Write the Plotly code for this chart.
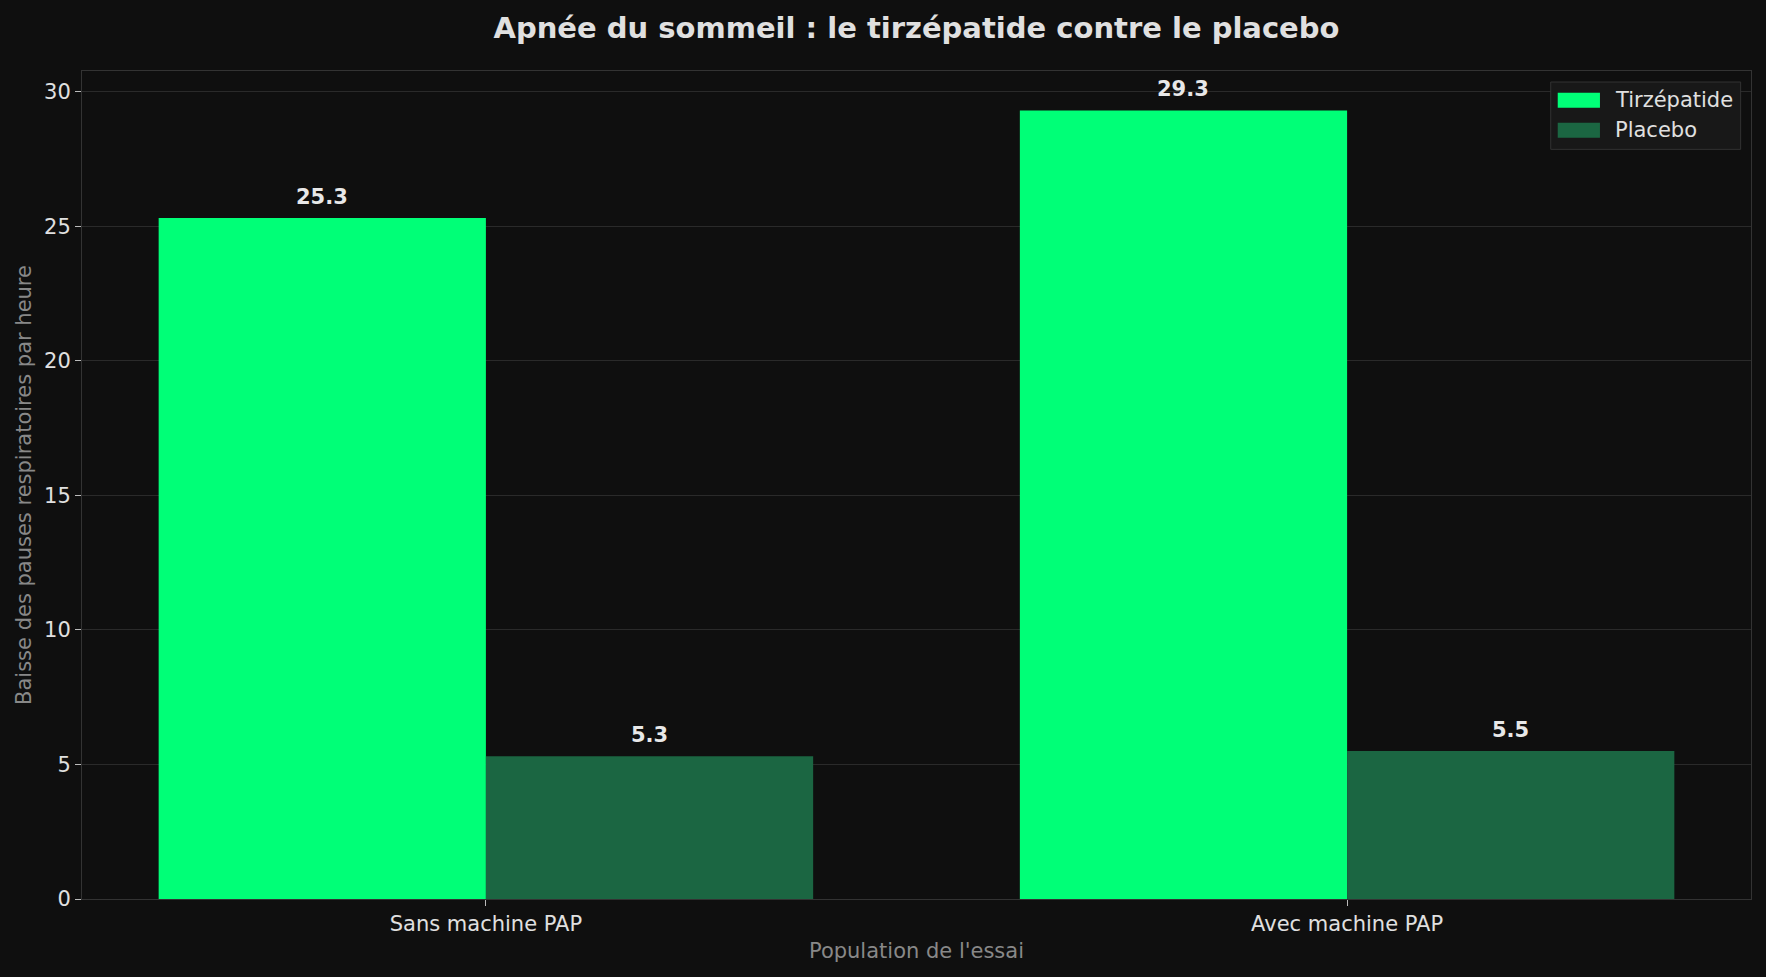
import plotly.graph_objects as go

populations = ["Sans machine PAP", "Avec machine PAP"]
tirzepatide = [25.3, 29.3]
placebo = [5.3, 5.5]
y_ticks = [0, 5, 10, 15, 20, 25, 30]

FONT = "DejaVu Sans"
BG = "#0f0f0f"
GREEN = "#00ff77"
DARK_GREEN = "#1b6642"
FS = 21

fig = go.Figure()
fig.add_trace(go.Bar(x=populations, y=tirzepatide, name="Tirzépatide",
                     marker=dict(color=GREEN, line=dict(width=0))))
fig.add_trace(go.Bar(x=populations, y=placebo, name="Placebo",
                     marker=dict(color=DARK_GREEN, line=dict(width=0))))

# valeurs au-dessus des barres
for vals, off in [(tirzepatide, -0.19), (placebo, 0.19)]:
    for i, v in enumerate(vals):
        fig.add_annotation(x=i + off, y=v, text=f"<b>{v}</b>", showarrow=False,
                           yanchor="bottom", yshift=7,
                           font=dict(family=FONT, size=FS, color="#e8e8e8"))

# légende façon matplotlib (rectangles larges)
fig.add_shape(type="rect", xref="paper", yref="paper",
              x0=0.880, x1=0.9938, y0=0.9054, y1=0.9867,
              fillcolor="#181818", line=dict(color="#333333", width=1))
for trace, (y0, y1) in zip(fig.data, [(0.9557, 0.9738), (0.9194, 0.9375)]):
    fig.add_shape(type="rect", xref="paper", yref="paper",
                  x0=0.8842, x1=0.9095, y0=y0, y1=y1,
                  fillcolor=trace.marker.color, line=dict(width=0))
    fig.add_annotation(xref="paper", yref="paper", x=0.9175, y=(y0 + y1) / 2,
                       text=trace.name, showarrow=False,
                       xanchor="left", yanchor="middle",
                       font=dict(family=FONT, size=FS, color="#e0e0e0"))

fig.update_layout(
    width=1766, height=977,
    paper_bgcolor=BG, plot_bgcolor=BG,
    font=dict(family=FONT, size=FS, color="#e0e0e0"),
    title=dict(text="<b>Apnée du sommeil : le tirzépatide contre le placebo</b>",
               xref="paper", x=0.5, xanchor="center", y=0.971, yanchor="middle",
               font=dict(family=FONT, size=29, color="#e0e0e0")),
    barmode="group", bargap=0.24, bargroupgap=0,
    margin=dict(l=82, r=15, t=71, b=78),
    showlegend=False,
)
fig.update_xaxes(range=[-0.469, 1.469], showgrid=False,
                 showline=True, linecolor="#333333", mirror=True,
                 ticks="outside", ticklen=6, tickcolor="#bbbbbb",
                 tickfont=dict(size=FS, color="#e0e0e0"),
                 title=dict(text="Population de l'essai", standoff=8,
                            font=dict(size=FS, color="#888888")))
fig.update_yaxes(range=[0, 30.765], tickvals=y_ticks,
                 showgrid=True, gridcolor="#2a2a2a", gridwidth=1,
                 zeroline=False,
                 showline=True, linecolor="#333333", mirror=True,
                 ticks="outside", ticklen=6, tickcolor="#bbbbbb",
                 tickfont=dict(size=FS, color="#e0e0e0"),
                 title=dict(text="Baisse des pauses respiratoires par heure", standoff=6,
                            font=dict(size=FS, color="#888888")))

fig.write_html("out.html", config={"displayModeBar": False},
               post_script="document.body.style.margin='0';"
                           "document.body.style.background='#0f0f0f';")
